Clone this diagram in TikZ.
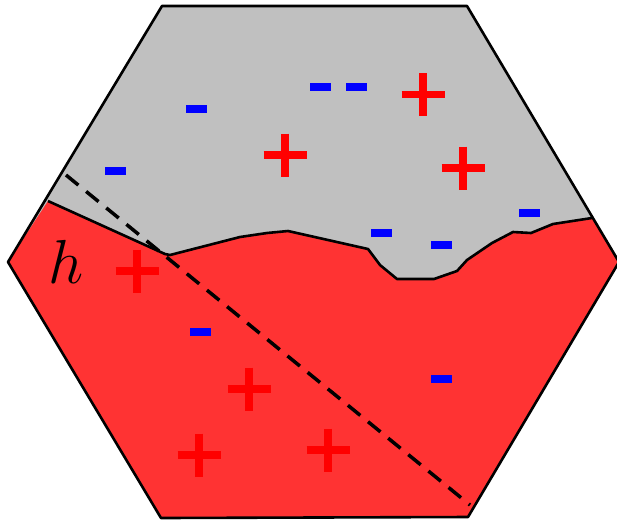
\documentclass[tikz,border=0pt]{standalone}
\usetikzlibrary{calc}
\definecolor{Region}{HTML}{FF3333}
\definecolor{Shade}{HTML}{C0C0C0}
\definecolor{PlusRed}{HTML}{FF0000}
\definecolor{MinusBlue}{HTML}{0000FF}

\begin{document}
\begin{tikzpicture}[x=1pt,y=-1pt,
    edge/.style={line width=2.6pt,line join=round},
    plussign/.style={PlusRed,line width=7.5pt},
    cut/.style={line width=3.5pt,dash pattern=on 16pt off 10pt}]
  \useasboundingbox (0,0) rectangle (617,520);

  % hexagon and the red region below the boundary
  \fill[Shade] (162,6)--(467,6)--(619,262)--(468,517)--(161,518)--(8,262)--cycle;
  \fill[Region] (8,262)--(48,201)--(165,254)--(170,255)--(240,237)--(267,233)
    --(288,231)--(368,249)--(380,265)--(397,279)--(434,279)--(457,271)
    --(467,260)--(492,243)--(513,232)--(531,233)--(553,224)--(592,218)
    --(619,262)--(468,517)--(161,518)--cycle;
  \draw[edge] (48,201)--(165,254)--(170,255)--(240,237)--(267,233)
    --(288,231)--(368,249)--(380,265)--(397,279)--(434,279)--(457,271)
    --(467,260)--(492,243)--(513,232)--(531,233)--(553,224)--(592,218);
  \draw[edge] (162,6)--(467,6)--(619,262)--(468,517)--(161,518)--(8,262)--cycle;

  % signs
  \foreach \x/\y in {423/94.5,285/155,463/168,137/271,249/389,199/455,328/450}{
    \draw[plussign] (\x-21.5,\y)--(\x+21.5,\y);
    \draw[plussign] (\x,\y-21.5)--(\x,\y+21.5);
  }
  \foreach \x/\y in {196.5/109,115/171,320.5/87,356.5/87,381.5/233,441.5/245,529.5/213,200/332,441/379}
    \fill[MinusBlue] (\x-10.5,\y-4) rectangle (\x+10.5,\y+4);

  \coordinate (cutstart) at (66,175);
  \coordinate (cutend) at (470,505);
  \draw[cut] (cutstart)--(cutend);

  \node[anchor=base west,inner sep=0pt] (hlabel) at (48,283) {\scalebox{2.5}{\Huge$h$}};
\end{tikzpicture}
\end{document}
